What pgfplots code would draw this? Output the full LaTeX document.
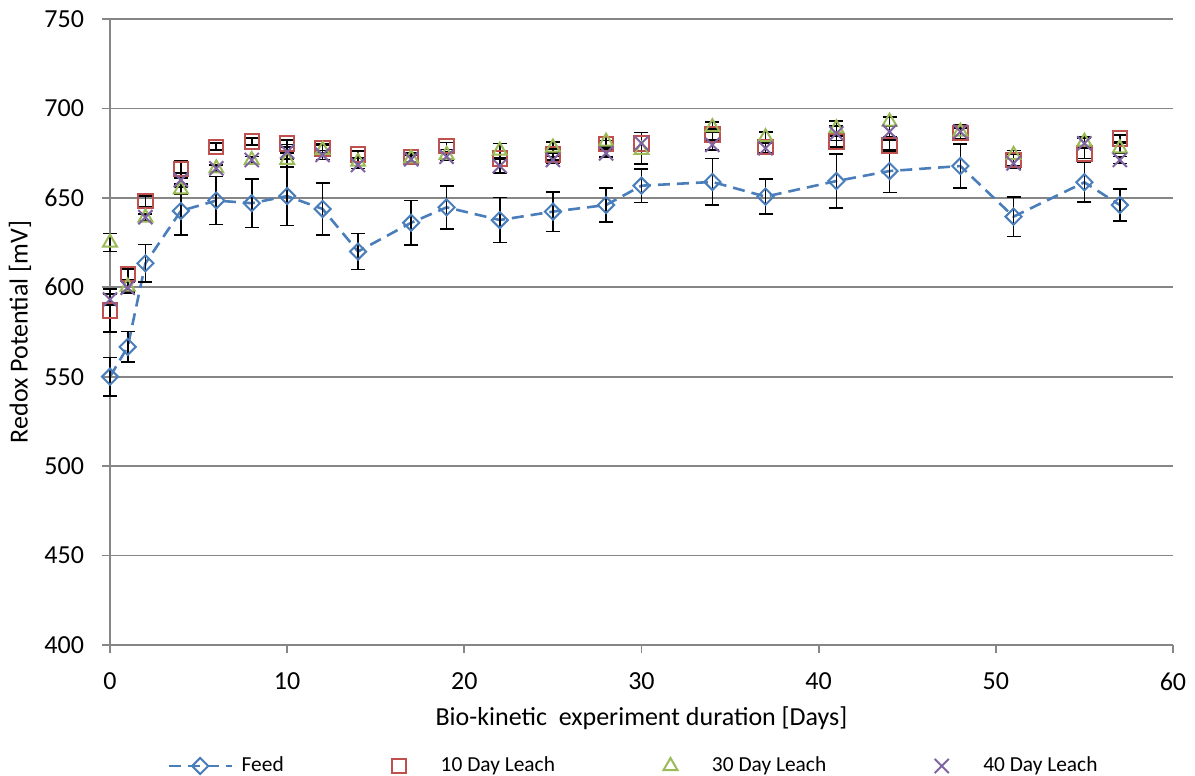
\documentclass[border=0pt]{standalone}
\usepackage{fontspec}
\setmainfont{Carlito}
\usepackage{pgfplots}
\usepackage{pgfplotstable}
\pgfplotsset{compat=1.18}
\definecolor{feedblue}{HTML}{4A7EBB}
\definecolor{leachred}{HTML}{C0504D}
\definecolor{leachgreen}{HTML}{9BBB59}
\definecolor{leachpurple}{HTML}{8064A2}
\definecolor{gridgray}{HTML}{868686}
\pgfplotsset{mylegimg/.style={legend image code/.code={\path[draw=none,fill=none] (0pt,-2pt) rectangle (34.5pt,2pt);\draw[mark repeat=2,mark phase=2,##1] plot coordinates {(0pt,0pt) (15.75pt,0pt) (31.5pt,0pt)};}}}

\pgfplotstableread{
x y e
0 550 10.7
1 566.7 8.5
2 613.4 10.5
4 642.7 13.5
6 648.5 13.5
8 647 13.6
10 651 16.5
12 643.8 14.5
14 620 10
17 636.1 12.4
19 644.7 12
22 637.6 12.6
25 642.3 11
28 646 9.6
30 656.8 9.5
34 658.9 13
37 650.7 9.7
41 659.4 15
44 665 12
48 667.8 12.4
51 639.5 11
55 658.7 11
57 646 9
}\feed

\pgfplotstableread{
x y e
0 587 12
1 607.3 3
2 648.1 3
4 666 5
6 678.6 2
8 681.4 2
10 680.5 2
12 677.7 2.5
14 674.3 2
17 672.7 2.5
19 679 2
22 672.1 4
25 674.3 3
28 680 2
30 680.5 4
34 685.5 3
37 678.3 3
41 681.4 3
44 679.2 3
48 686.1 3
51 671.2 3
55 674.9 3
57 683.3 2
}\tenday

\pgfplotstableread{
x y e
0 625 5
1 600.4 3
2 639 2
4 654.8 3
6 666.5 2
8 671.2 2
10 671.2 4
12 676.8 2.5
14 670.2 2
17 672.1 2
19 674 2
22 676.4 4
25 678.1 3
28 681.4 3
30 676.8 8
34 689.5 3
37 683.9 3
41 688.9 4
44 692.6 2.5
48 687 4
51 674 2.5
55 681.4 3
57 677.7 3
}\thirtyday

\pgfplotstableread{
x y e
0 593.2 3
1 599.8 3
2 639.2 2
4 660 4
6 666.5 2
8 671.2 2
10 675.8 4
12 674 2.5
14 668.4 2
17 671.6 2
19 673 2
22 667.8 4
25 671.2 2
28 674.9 2
30 680.5 6
34 679.6 3
37 677.7 3
41 686.1 4
44 687 3
48 687 4
51 669.3 2.5
55 680.5 3
57 671.2 2
}\fortyday

\begin{document}
\begin{tikzpicture}
\useasboundingbox (-55pt,-65.5pt) rectangle (542.5pt,322.5pt);
\begin{axis}[
  at={(0,0)}, anchor=south west,
  scale only axis,
  width=531.5pt, height=313pt,
  xmin=0, xmax=60, ymin=400, ymax=750,
  xtick={0,10,...,60}, ytick={400,450,...,750},
  axis x line*=bottom, axis y line*=left,
  axis line style={-, gridgray, line width=1pt},
  tick align=outside,
  major tick length=4pt,
  tick style={gridgray, line width=0.9pt},
  ymajorgrids,
  grid style={gridgray, line width=0.9pt},
  /pgf/number format/assume math mode=true,
  tick label style={font=\fontsize{13}{15}\selectfont, black},
  xticklabel style={yshift=-6.5pt},
  yticklabel style={xshift=-5.5pt},
  label style={font=\fontsize{13}{15}\selectfont, black},
  xlabel={Bio-kinetic\ \ experiment duration [Days]},
  ylabel={Redox Potential [mV]},
  xlabel style={at={(axis description cs:0.5,-0.1166)}, anchor=center},
  ylabel style={at={(axis description cs:-0.0847,0.5)}, anchor=center},
  legend columns=4,
  legend style={at={(axis description cs:0.0536,-0.1933)}, anchor=west,
    draw=none, fill=none, inner sep=0pt,
    font=\fontsize{10.7}{12}\selectfont,
    /tikz/every even column/.append style={column sep=40pt}},
  legend cell align=left,
  clip=false,
]
\addplot[feedblue, line width=1.3pt, dash pattern=on 6pt off 3.5pt,
  mark=square, mark size=2.85pt, mark options={solid, rotate=45, line width=1pt, fill=none},
  mylegimg,
  error bars/.cd, y dir=both, y explicit,
  error bar style={black, line width=0.8pt, solid},
  error mark options={rotate=90, black, mark size=3.5pt, line width=0.8pt, solid}]
  table[x=x, y=y, y error=e] {\feed};
\addlegendentry{Feed}
\addplot[only marks, leachred, mark=square, mark size=3.6pt, mark options={line width=1pt},
  mylegimg,
  error bars/.cd, y dir=both, y explicit,
  error bar style={black, line width=0.8pt},
  error mark options={rotate=90, black, mark size=3.5pt, line width=0.8pt}]
  table[x=x, y=y, y error=e] {\tenday};
\addlegendentry{10 Day Leach}
\addplot[only marks, leachgreen, mark=triangle, mark size=4pt, mark options={line width=1pt},
  mylegimg,
  error bars/.cd, y dir=both, y explicit,
  error bar style={black, line width=0.8pt},
  error mark options={rotate=90, black, mark size=3.5pt, line width=0.8pt}]
  table[x=x, y=y, y error=e] {\thirtyday};
\addlegendentry{30 Day Leach}
\addplot[only marks, leachpurple, mark=x, mark size=5pt, mark options={line width=1pt},
  mylegimg,
  error bars/.cd, y dir=both, y explicit,
  error bar style={black, line width=0.8pt},
  error mark options={rotate=90, black, mark size=3.5pt, line width=0.8pt}]
  table[x=x, y=y, y error=e] {\fortyday};
\addlegendentry{40 Day Leach}
\end{axis}
\end{tikzpicture}
\end{document}
